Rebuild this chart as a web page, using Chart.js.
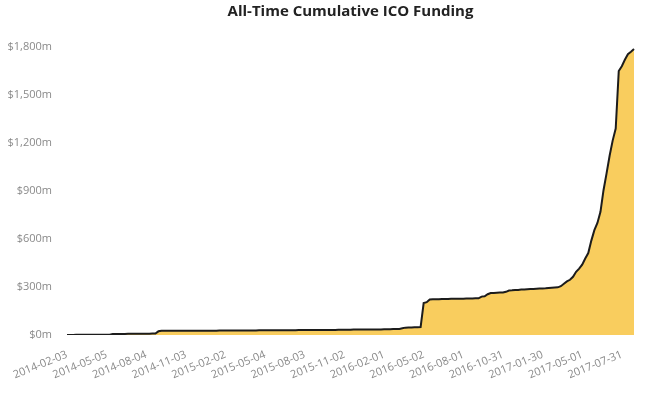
<!DOCTYPE html>
<html lang="en">
<head>
    <meta charset="UTF-8">
    <title>All-Time Cumulative ICO Funding</title>
    <style>
        html, body {
            margin: 0;
            padding: 0;
            background: #fff;
        }
        .wrap {
            width: 653px;
            height: 393px;
        }
    </style>
    <script src="https://cdn.jsdelivr.net/npm/chart.js"></script>
</head>
<body>
    <div class="wrap">
        <canvas id="icoChart" width="653" height="393"></canvas>
    </div>
    <script>
        // weekly data, first week 2014-02-03
        const startDate = '2014-02-03';

        // labels shown on the x axis (every 13th week)
        const tickLabels = [
            '2014-02-03', '2014-05-05', '2014-08-04', '2014-11-03', '2015-02-02',
            '2015-05-04', '2015-08-03', '2015-11-02', '2016-02-01', '2016-05-02',
            '2016-08-01', '2016-10-31', '2017-01-30', '2017-05-01', '2017-07-31'
        ];

        // cumulative funding, $m, one value per week
        const funding = [
            0, 0, 0, 1, 1, 1, 1, 1, 2, 2, 2, 2, 2, 2, 2,
            7, 7, 7, 7, 7, 8, 8, 8, 8, 8, 8, 8, 8, 9, 9,
            23, 26, 26, 26, 26, 26, 26, 27, 27, 27, 27, 27, 27, 27, 27,
            27, 27, 27, 27, 27, 28, 28, 28, 28, 28, 28, 28, 28, 28, 28,
            28, 28, 28, 29, 29, 29, 29, 29, 29, 30, 30, 30, 30, 30, 30,
            30, 31, 31, 31, 31, 31, 31, 32, 32, 32, 32, 32,
            32, 32, 33, 33, 33, 33, 33, 34, 34, 34, 34, 34, 34, 35, 35,
            35, 35, 36, 36, 36, 37, 37, 38, 42, 46,
            47, 47, 48, 48, 49,
            200, 205, 222,
            224, 224, 224, 225, 225, 225, 226, 226, 226, 227, 227, 228, 228, 228, 229, 229,
            240, 242, 255, 262, 263, 264, 265, 266, 270, 278,
            279, 281, 282, 284, 285, 286, 287, 288, 289, 290,
            291, 292, 294, 296, 297, 298, 305, 320, 335, 345,
            364, 395, 415, 440, 478, 512, 590, 655, 700, 770,
            905, 1010, 1120, 1215, 1290, 1650, 1680, 1720, 1755, 1770,
            1787
        ];

        const yTicks = [0, 300, 600, 900, 1200, 1500, 1800];

        // week dates for the category axis
        const weeks = funding.map((v, i) => {
            const d = new Date(startDate + 'T00:00:00Z');
            d.setUTCDate(d.getUTCDate() + i * 7);
            return d.toISOString().slice(0, 10);
        });

        const ctx = document.getElementById('icoChart').getContext('2d');
        new Chart(ctx, {
            type: 'line',
            data: {
                labels: weeks,
                datasets: [{
                    label: 'Cumulative ICO Funding',
                    data: funding,
                    borderColor: '#1c1c1c',
                    borderWidth: 2,
                    backgroundColor: '#f9cd5e',
                    fill: 'origin',
                    tension: 0,
                    pointRadius: 0
                }]
            },
            options: {
                responsive: false,
                animation: false,
                layout: {
                    padding: { left: 0, right: 19, top: 0, bottom: 0 }
                },
                plugins: {
                    legend: { display: false },
                    tooltip: { enabled: false },
                    title: {
                        display: true,
                        text: 'All-Time Cumulative ICO Funding',
                        fullSize: false,
                        color: '#222',
                        font: { family: 'Open Sans', size: 15, weight: 'bold' },
                        padding: { top: 3, bottom: 26 }
                    }
                },
                scales: {
                    x: {
                        afterFit: function(scale) { scale.height = 58; },
                        grid: { display: false },
                        border: { display: false },
                        ticks: {
                            autoSkip: false,
                            minRotation: 22,
                            maxRotation: 22,
                            padding: 5,
                            color: '#8a8a8a',
                            font: { family: 'Open Sans', size: 11 },
                            callback: function(value, index) {
                                return index % 13 === 0 ? tickLabels[index / 13] : '';
                            }
                        }
                    },
                    y: {
                        min: 0,
                        max: 1800,
                        afterFit: function(scale) { scale.width = 67; },
                        afterBuildTicks: function(scale) {
                            scale.ticks = yTicks.map(v => ({ value: v }));
                        },
                        grid: { display: false },
                        border: { display: false },
                        ticks: {
                            padding: 7,
                            color: '#8a8a8a',
                            font: { family: 'Open Sans', size: 11 },
                            callback: function(value) {
                                return '$' + value.toLocaleString('en-US') + 'm';
                            }
                        }
                    }
                }
            }
        });
    </script>
</body>
</html>
